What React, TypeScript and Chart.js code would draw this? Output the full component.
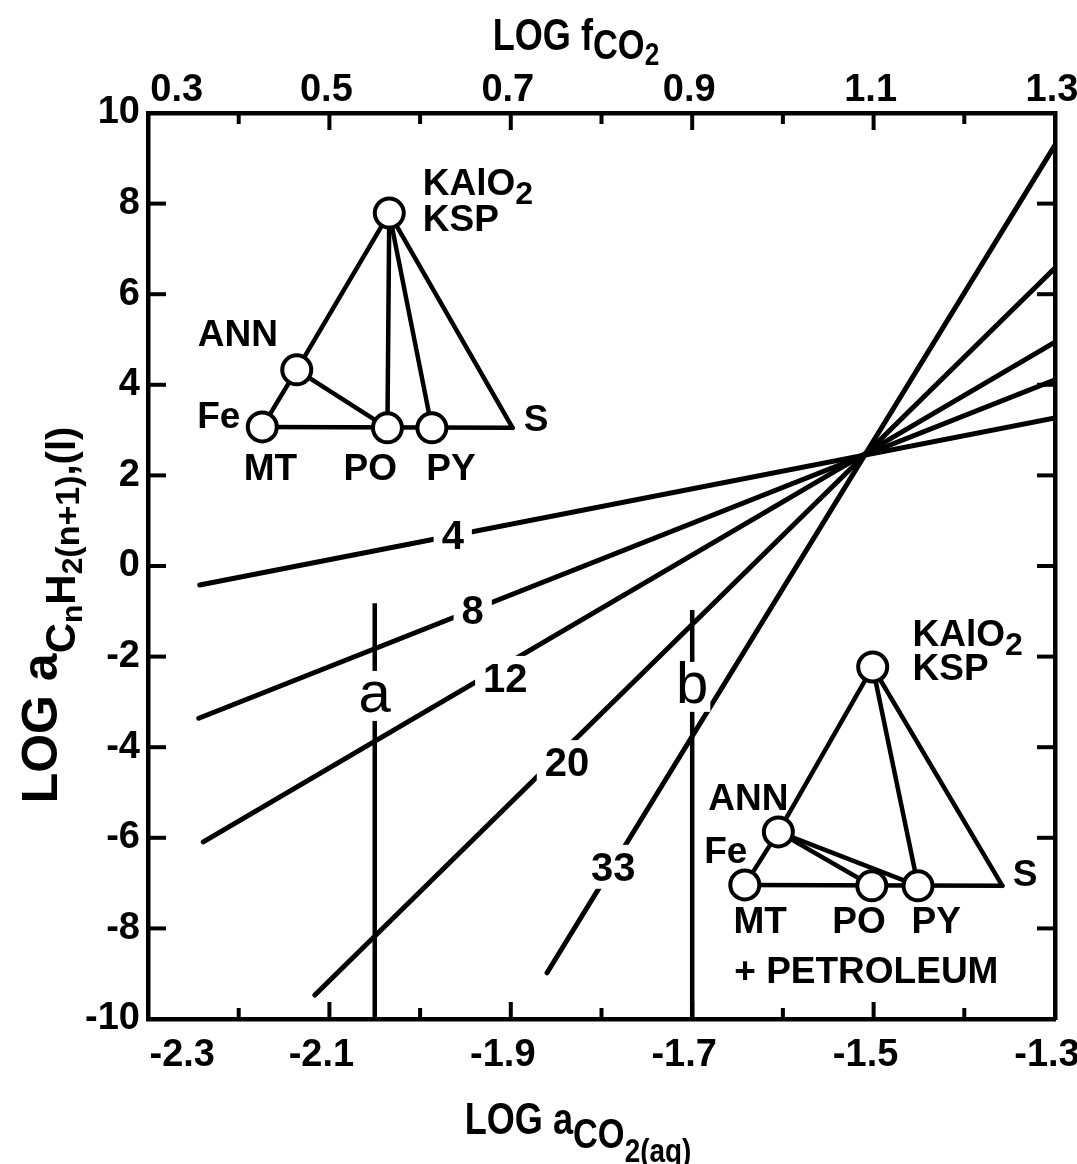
import React, { useEffect, useRef } from "react";
import { Chart, registerables } from "chart.js";
Chart.register(...registerables);

const FONT = '"Liberation Sans", Arial, Helvetica, sans-serif';

// ---- axis ticks ----
const xTickValues = [-2.3, -2.2, -2.1, -2.0, -1.9, -1.8, -1.7, -1.6, -1.5, -1.4, -1.3];
const xTickLabels = ["\u2007\u2007\u2007\u2007-2.3", "", "-2.1", "", "-1.9", "", "-1.7", "", "-1.5", "", "-1.3"];
const topTickValues = [0.3, 0.4, 0.5, 0.6, 0.7, 0.8, 0.9, 1.0, 1.1, 1.2, 1.3];
const topTickLabels = ["\u2007\u2007\u20070.3", "", "0.5", "", "0.7", "", "0.9", "", "1.1", "", "1.3"];
const yTickValues = [-10, -8, -6, -4, -2, 0, 2, 4, 6, 8, 10];
const yTickLabels = ["-10", "-8", "-6", "-4", "-2", "0", "2", "4", "6", "8", "10"];

// ---- carbon-number lines (n) ----
const carbonNumbers = ["4", "8", "12", "20", "33"];
const lineStartX = [-2.243, -2.244, -2.239, -2.116, -1.86];
const lineStartY = [-0.42, -3.36, -6.09, -9.47, -8.98];
const lineEndX = [-1.3, -1.3, -1.3, -1.3, -1.3];
const lineEndY = [3.27, 4.11, 4.94, 6.58, 9.29];
const lineLabelX = [-1.964, -1.942, -1.906, -1.838, -1.787];
const lineLabelY = [0.68, -0.98, -2.47, -4.33, -6.64];

// ---- vertical reference lines ----
const verticalNames = ["a", "b"];
const verticalX = [-2.05, -1.7];
const verticalTop = [-0.82, -0.97];
const verticalBottom = [-10, -10];
const verticalLabelY = [-2.89, -2.69];

// ---- inset phase diagrams ----
const nodeNames = ["KSP", "ANN", "MT", "PO", "PY", "S"];
const nodeHasCircle = [true, true, true, true, true, false];

const inset1X = [-2.034, -2.136, -2.174, -2.036, -1.987, -1.898];
const inset1Y = [7.79, 4.33, 3.07, 3.05, 3.05, 3.05];
const inset1Edges = [["KSP", "ANN"], ["ANN", "MT"], ["ANN", "PO"], ["MT", "S"], ["KSP", "PO"], ["KSP", "PY"], ["KSP", "S"]];
const inset1LabelText = ["KAlO_2", "KSP", "ANN", "Fe", "MT", "PO", "PY", "S"];
const inset1LabelX = [-1.997, -1.997, -2.201, -2.222, -2.165, -2.055, -1.966, -1.872];
const inset1LabelY = [8.48, 7.68, 5.14, 3.33, 2.19, 2.19, 2.19, 3.27];
const inset1LabelAlign = ["left", "left", "center", "center", "center", "center", "center", "center"];

const inset2X = [-1.501, -1.605, -1.642, -1.502, -1.451, -1.358];
const inset2Y = [-2.23, -5.87, -7.04, -7.06, -7.06, -7.06];
const inset2Edges = [["KSP", "ANN"], ["ANN", "MT"], ["ANN", "PO"], ["ANN", "PY"], ["MT", "S"], ["KSP", "PY"], ["KSP", "S"]];
const inset2LabelText = ["KAlO_2", "KSP", "ANN", "Fe", "MT", "PO", "PY", "S", "+ PETROLEUM"];
const inset2LabelX = [-1.457, -1.457, -1.638, -1.663, -1.625, -1.516, -1.431, -1.333, -1.508];
const inset2LabelY = [-1.48, -2.23, -5.1, -6.27, -7.81, -7.81, -7.81, -6.78, -8.92];
const inset2LabelAlign = ["left", "left", "center", "center", "center", "center", "center", "center", "center"];

type Seg = { t: string; size: number; dy?: number; weight?: string };

function drawRich(ctx: CanvasRenderingContext2D, segs: Seg[], x: number, y: number, align: string, h = 1) {
  const widths: number[] = [];
  let total = 0;
  segs.forEach((s) => {
    ctx.font = `${s.weight || "bold"} ${s.size}px ${FONT}`;
    const w = ctx.measureText(s.t).width;
    widths.push(w);
    total += w;
  });
  const start = align === "center" ? x - (total * h) / 2 : align === "right" ? x - total * h : x;
  ctx.save();
  ctx.translate(start, y);
  ctx.scale(h, 1);
  ctx.textAlign = "left";
  ctx.textBaseline = "alphabetic";
  let cx = 0;
  segs.forEach((s, i) => {
    ctx.font = `${s.weight || "bold"} ${s.size}px ${FONT}`;
    ctx.fillText(s.t, cx, s.dy || 0);
    cx += widths[i];
  });
  ctx.restore();
}

const LABEL_SIZE = 37;

function labelSegs(text: string): Seg[] {
  const parts = text.split("_");
  const segs: Seg[] = [{ t: parts[0], size: LABEL_SIZE }];
  if (parts[1]) segs.push({ t: parts[1], size: 32, dy: 9 });
  return segs;
}

const annotationsPlugin = {
  id: "annotations",
  afterDatasetsDraw(chart: any) {
    const ctx: CanvasRenderingContext2D = chart.ctx;
    const xs = chart.scales.x;
    const ys = chart.scales.y;
    ctx.save();
    ctx.fillStyle = "#000";

    carbonNumbers.forEach((txt, i) => {
      const px = xs.getPixelForValue(lineLabelX[i]);
      const py = ys.getPixelForValue(lineLabelY[i]);
      ctx.font = `bold 40px ${FONT}`;
      const w = ctx.measureText(txt).width;
      ctx.fillStyle = "#fff";
      ctx.fillRect(px - w / 2 - 8, py - 22, w + 16, 44);
      ctx.fillStyle = "#000";
      ctx.textAlign = "center";
      ctx.textBaseline = "alphabetic";
      ctx.fillText(txt, px, py + 14);
    });

    verticalNames.forEach((txt, i) => {
      const px = xs.getPixelForValue(verticalX[i]);
      const py = ys.getPixelForValue(verticalLabelY[i]);
      ctx.font = `normal 58px ${FONT}`;
      const w = ctx.measureText(txt).width;
      ctx.fillStyle = "#fff";
      ctx.fillRect(px - w / 2 - 2, py - 26, w + 4, 50);
      ctx.fillStyle = "#000";
      ctx.textAlign = "center";
      ctx.textBaseline = "alphabetic";
      ctx.fillText(txt, px, py + 15);
    });

    const drawInset = (texts: string[], lx: number[], ly: number[], al: string[]) => {
      texts.forEach((t, i) => {
        const px = xs.getPixelForValue(lx[i]);
        const py = ys.getPixelForValue(ly[i]);
        drawRich(ctx, labelSegs(t), px, py + LABEL_SIZE * 0.36, al[i]);
      });
    };
    drawInset(inset1LabelText, inset1LabelX, inset1LabelY, inset1LabelAlign);
    drawInset(inset2LabelText, inset2LabelX, inset2LabelY, inset2LabelAlign);
    ctx.restore();
  },
  afterDraw(chart: any) {
    const ctx: CanvasRenderingContext2D = chart.ctx;
    const { left, right, top, bottom } = chart.chartArea;
    ctx.save();
    ctx.strokeStyle = "#000";
    ctx.fillStyle = "#000";
    ctx.lineWidth = 4;
    ctx.lineCap = "butt";
    const horiz = (id: string, edge: number, dir: number, labels: string[]) => {
      const s = chart.scales[id];
      s.ticks.forEach((t: any, i: number) => {
        const px = s.getPixelForValue(t.value);
        if (px <= left + 3 || px >= right - 3) return;
        const len = labels[i] ? 17 : 11;
        ctx.beginPath();
        ctx.moveTo(px, edge);
        ctx.lineTo(px, edge + dir * len);
        ctx.stroke();
      });
    };
    const vert = (id: string, edge: number, dir: number) => {
      const s = chart.scales[id];
      s.ticks.forEach((t: any) => {
        const py = s.getPixelForValue(t.value);
        if (py <= top + 3 || py >= bottom - 3) return;
        ctx.beginPath();
        ctx.moveTo(edge, py);
        ctx.lineTo(edge + dir * 18, py);
        ctx.stroke();
      });
    };
    horiz("x", bottom, -1, xTickLabels);
    horiz("x2", top, 1, topTickLabels);
    vert("y", left, 1);
    vert("y2", right, -1);

    // axis titles
    drawRich(
      ctx,
      [
        { t: "LOG f", size: 44 },
        { t: "CO", size: 42, dy: 9 },
        { t: "2", size: 32, dy: 15 },
      ],
      576,
      50,
      "center",
      0.82
    );
    drawRich(
      ctx,
      [
        { t: "LOG a", size: 44 },
        { t: "CO", size: 42, dy: 14 },
        { t: "2(aq)", size: 34, dy: 28 },
      ],
      578,
      1134,
      "center",
      0.82
    );
    ctx.translate(57, 615);
    ctx.rotate(-Math.PI / 2);
    drawRich(
      ctx,
      [
        { t: "LOG a", size: 50 },
        { t: "C", size: 42, dy: 18 },
        { t: "n", size: 30, dy: 25 },
        { t: "H", size: 42, dy: 18 },
        { t: "2", size: 30, dy: 25 },
        { t: "(n+1)", size: 34, dy: 22 },
        { t: ",(l)", size: 40, dy: 18 },
      ],
      0,
      0,
      "center",
      1
    );
    ctx.restore();
  },
};

function buildDatasets() {
  const ds: any[] = [];
  const insets = [
    { X: inset1X, Y: inset1Y, E: inset1Edges },
    { X: inset2X, Y: inset2Y, E: inset2Edges },
  ];
  insets.forEach((ins) => {
    ds.push({
      label: "circles",
      data: nodeNames
        .map((n, i) => ({ x: ins.X[i], y: ins.Y[i], c: nodeHasCircle[i] }))
        .filter((p) => p.c)
        .map((p) => ({ x: p.x, y: p.y })),
      showLine: false,
      pointRadius: 14.5,
      pointBackgroundColor: "#fff",
      pointBorderColor: "#000",
      pointBorderWidth: 4,
      order: 0,
    });
    ins.E.forEach(([a, b]) => {
      const ia = nodeNames.indexOf(a);
      const ib = nodeNames.indexOf(b);
      ds.push({
        label: a + "-" + b,
        data: [
          { x: ins.X[ia], y: ins.Y[ia] },
          { x: ins.X[ib], y: ins.Y[ib] },
        ],
        showLine: true,
        borderColor: "#000",
        borderWidth: 4.5,
        pointRadius: 0,
        borderCapStyle: "round",
        order: 1,
      });
    });
  });
  carbonNumbers.forEach((n, i) => {
    ds.push({
      label: "n=" + n,
      data: [
        { x: lineStartX[i], y: lineStartY[i] },
        { x: lineEndX[i], y: lineEndY[i] },
      ],
      showLine: true,
      borderColor: "#000",
      borderWidth: 5,
      pointRadius: 0,
      borderCapStyle: "round",
      order: 2,
    });
  });
  verticalNames.forEach((n, i) => {
    ds.push({
      label: n,
      data: [
        { x: verticalX[i], y: verticalTop[i] },
        { x: verticalX[i], y: verticalBottom[i] },
      ],
      showLine: true,
      borderColor: "#000",
      borderWidth: 4.5,
      pointRadius: 0,
      order: 2,
    });
  });
  return ds;
}

const tickFont = { family: FONT, size: 38, weight: "bold" as const };

export default function App() {
  const ref = useRef<HTMLCanvasElement | null>(null);
  useEffect(() => {
    document.body.style.margin = "0";
    if (!ref.current) return;
    const chart = new Chart(ref.current, {
      type: "scatter",
      data: { datasets: buildDatasets() },
      options: {
        animation: false,
        responsive: false,
        devicePixelRatio: 1,
        layout: { padding: 0 },
        plugins: { legend: { display: false }, tooltip: { enabled: false } },
        scales: {
          x: {
            type: "linear",
            position: "bottom",
            min: -2.3,
            max: -1.3,
            afterBuildTicks: (s: any) => {
              s.ticks = xTickValues.map((v) => ({ value: v }));
            },
            ticks: {
              callback: (_v: any, i: number) => xTickLabels[i] ?? "",
              font: tickFont,
              color: "#000",
              padding: 14,
              labelOffset: -8,
              maxRotation: 0,
              autoSkip: false,
            },
            grid: { display: true, drawOnChartArea: false, drawTicks: false },
            border: { display: true, color: "#000", width: 4.5 },
            afterFit: (s: any) => {
              s.height = 145;
              s.paddingLeft = 0;
              s.paddingRight = 0;
            },
          },
          x2: {
            type: "linear",
            position: "top",
            min: 0.3,
            max: 1.3,
            afterBuildTicks: (s: any) => {
              s.ticks = topTickValues.map((v) => ({ value: v }));
            },
            ticks: {
              callback: (_v: any, i: number) => topTickLabels[i] ?? "",
              font: tickFont,
              color: "#000",
              padding: 0,
              labelOffset: -3,
              maxRotation: 0,
              autoSkip: false,
            },
            grid: { display: true, drawOnChartArea: false, drawTicks: false },
            border: { display: true, color: "#000", width: 4.5 },
            afterFit: (s: any) => {
              s.height = 113;
              s.paddingLeft = 0;
              s.paddingRight = 0;
            },
          },
          y: {
            type: "linear",
            position: "left",
            min: -10,
            max: 10,
            afterBuildTicks: (s: any) => {
              s.ticks = yTickValues.map((v) => ({ value: v }));
            },
            ticks: {
              callback: (_v: any, i: number) => yTickLabels[i] ?? "",
              font: tickFont,
              color: "#000",
              padding: 8,
              autoSkip: false,
            },
            grid: { display: true, drawOnChartArea: false, drawTicks: false },
            border: { display: true, color: "#000", width: 4.5 },
            afterFit: (s: any) => {
              s.width = 148;
              s.paddingTop = 0;
              s.paddingBottom = 0;
            },
          },
          y2: {
            type: "linear",
            position: "right",
            min: -10,
            max: 10,
            afterBuildTicks: (s: any) => {
              s.ticks = yTickValues.map((v) => ({ value: v }));
            },
            ticks: { display: false },
            grid: { display: true, drawOnChartArea: false, drawTicks: false },
            border: { display: true, color: "#000", width: 4.5 },
            afterFit: (s: any) => {
              s.width = 22;
              s.paddingTop = 0;
              s.paddingBottom = 0;
            },
          },
        },
      } as any,
      plugins: [annotationsPlugin],
    });
    return () => chart.destroy();
  }, []);
  return (
    <div style={{ width: 1077, height: 1164, position: "relative", background: "#fff" }}>
      <canvas ref={ref} width={1077} height={1164} style={{ display: "block" }} />
    </div>
  );
}
